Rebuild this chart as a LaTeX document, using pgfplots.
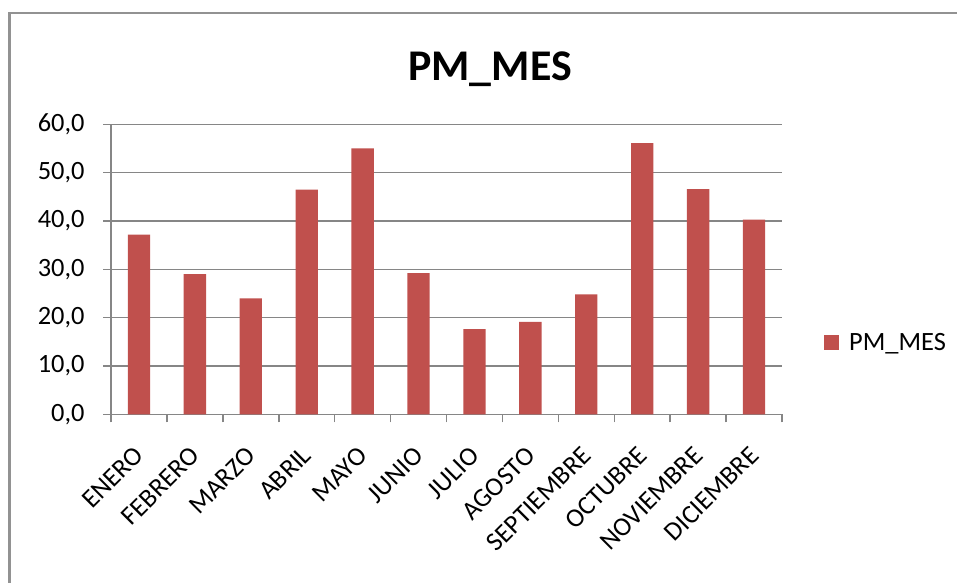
\documentclass[border=0pt]{standalone}
\usepackage{pgfplots}
\pgfplotsset{compat=1.18}
\usepackage{fontspec}
\setmainfont{Carlito}
\definecolor{barred}{HTML}{C0504D}
\definecolor{gridgray}{HTML}{868686}
\begin{document}
\begin{tikzpicture}
\useasboundingbox (-111bp,-168.7bp) rectangle (846bp,414.3bp);
\draw[gridgray!90, line width=2.5bp] (-101.5bp,-200bp) -- (-101.5bp,401.3bp) -- (900bp,401.3bp);
\node[font=\fontsize{44}{50}\selectfont\bfseries, anchor=base] at (379bp,334bp) {PM\_MES};
\begin{axis}[
  at={(0bp,0bp)}, anchor=south west,
  scale only axis, width=671bp, height=290bp,
  ymin=0, ymax=60, ytick={0,10,...,60},
  xmin=-0.5, xmax=11.5,
  xtick={0,...,11},
  xticklabels={ENERO,FEBRERO,MARZO,ABRIL,MAYO,JUNIO,JULIO,AGOSTO,SEPTIEMBRE,OCTUBRE,NOVIEMBRE,DICIEMBRE},
  minor xtick={-0.5,0.5,...,11.5},
  axis x line*=bottom, axis y line*=left,
  axis line style={gridgray, line width=1.5bp},
  ymajorgrids, grid style={gridgray, line width=1.5bp},
  tick align=outside,
  major tick length=8bp, minor tick length=8bp,
  tick style={gridgray, line width=1.5bp},
  major x tick style={draw=none},
  ticklabel style={font=\fontsize{26.5}{30}\selectfont},
  xticklabel style={xshift=-6bp, yshift=-18bp, rotate=45, anchor=north east},
  yticklabel style={xshift=-15bp, /pgf/number format/.cd, fixed, fixed zerofill, precision=1, use comma, assume math mode=true},
  legend style={at={(1.0626,0.248)}, anchor=west, draw=none, fill=none, inner sep=0pt,
    column sep=8bp, font=\fontsize{26.5}{30}\selectfont},
  legend image code/.code={\fill[barred] (0bp,-7.5bp) rectangle (15bp,7.5bp);},
]
\addplot[ybar, bar width=22.3bp, fill=barred, draw=none] coordinates {
(0,37.2) (1,29.0) (2,24.0) (3,46.5) (4,55.0) (5,29.2)
(6,17.6) (7,19.1) (8,24.8) (9,56.1) (10,46.6) (11,40.3)};
\addlegendentry{PM\_MES}
\end{axis}
\end{tikzpicture}
\end{document}
